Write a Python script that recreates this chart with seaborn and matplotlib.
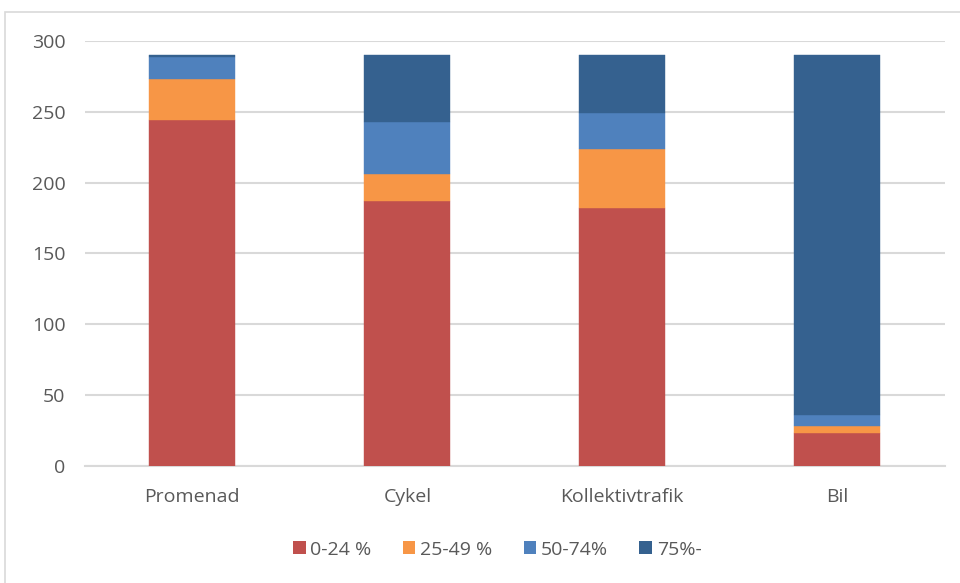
import matplotlib
matplotlib.use("Agg")
import matplotlib.pyplot as plt
import seaborn as sns
import numpy as np
from matplotlib.patches import Rectangle, Patch

# Data
categories = ["Promenad", "Cykel", "Kollektivtrafik", "Bil"]
series_names = ["0-24 %", "25-49 %", "50-74%", "75%-"]
share_0_24 = [244, 187, 182, 23]
share_25_49 = [29, 19, 42, 5]
share_50_74 = [16, 37, 25, 8]
share_75 = [1, 47, 41, 254]
y_ticks = [0, 50, 100, 150, 200, 250, 300]

colors = ["#C0504D", "#F79646", "#4F81BD", "#35618F"]

sns.set_theme(style="white")
plt.rcParams["font.family"] = ["Open Sans", "DejaVu Sans"]

fig = plt.figure(figsize=(9.6, 5.83), dpi=100)
ax = fig.add_axes([0.0885, 0.2007, 0.8955, 0.729])

# outer chart border
fig.patches.append(Rectangle((5 / 960, -0.01), 1.0, 1 - 12 / 583 + 0.01,
                             transform=fig.transFigure, fill=False,
                             edgecolor="#D9D9D9", linewidth=1.2))

bottom = np.zeros(len(categories))
for name, vals, col in zip(series_names,
                           [share_0_24, share_25_49, share_50_74, share_75],
                           colors):
    sns.barplot(x=categories, y=vals, bottom=bottom, color=col, width=0.4,
                saturation=1, edgecolor=col, linewidth=0.3, ax=ax,
                zorder=3)
    bottom = bottom + np.array(vals)

ax.set_xlim(-0.5, 3.5)
ax.set_ylim(0, 300)
ax.set_yticks(y_ticks)
ax.yaxis.grid(True, color="#D9D9D9", linewidth=1.5, zorder=0)
ax.xaxis.grid(False)
for side in ["top", "right", "left"]:
    ax.spines[side].set_visible(False)
ax.spines["bottom"].set_color("#D9D9D9")
ax.spines["bottom"].set_linewidth(1.5)
ax.tick_params(axis="both", length=0, colors="#595959", labelsize=14)
ax.tick_params(axis="y", pad=14)
ax.tick_params(axis="x", pad=16)
ax.set_xlabel("")
ax.set_ylabel("")

handles = [Patch(facecolor=c, edgecolor="none") for c in colors]
fig.legend(handles, series_names, loc="center", bbox_to_anchor=(0.518, 0.057),
           ncol=4, frameon=False, fontsize=14, handlelength=0.65,
           handleheight=0.65, handletextpad=0.25, columnspacing=1.6,
           labelcolor="#595959")

fig.savefig("out.png", dpi=100)
